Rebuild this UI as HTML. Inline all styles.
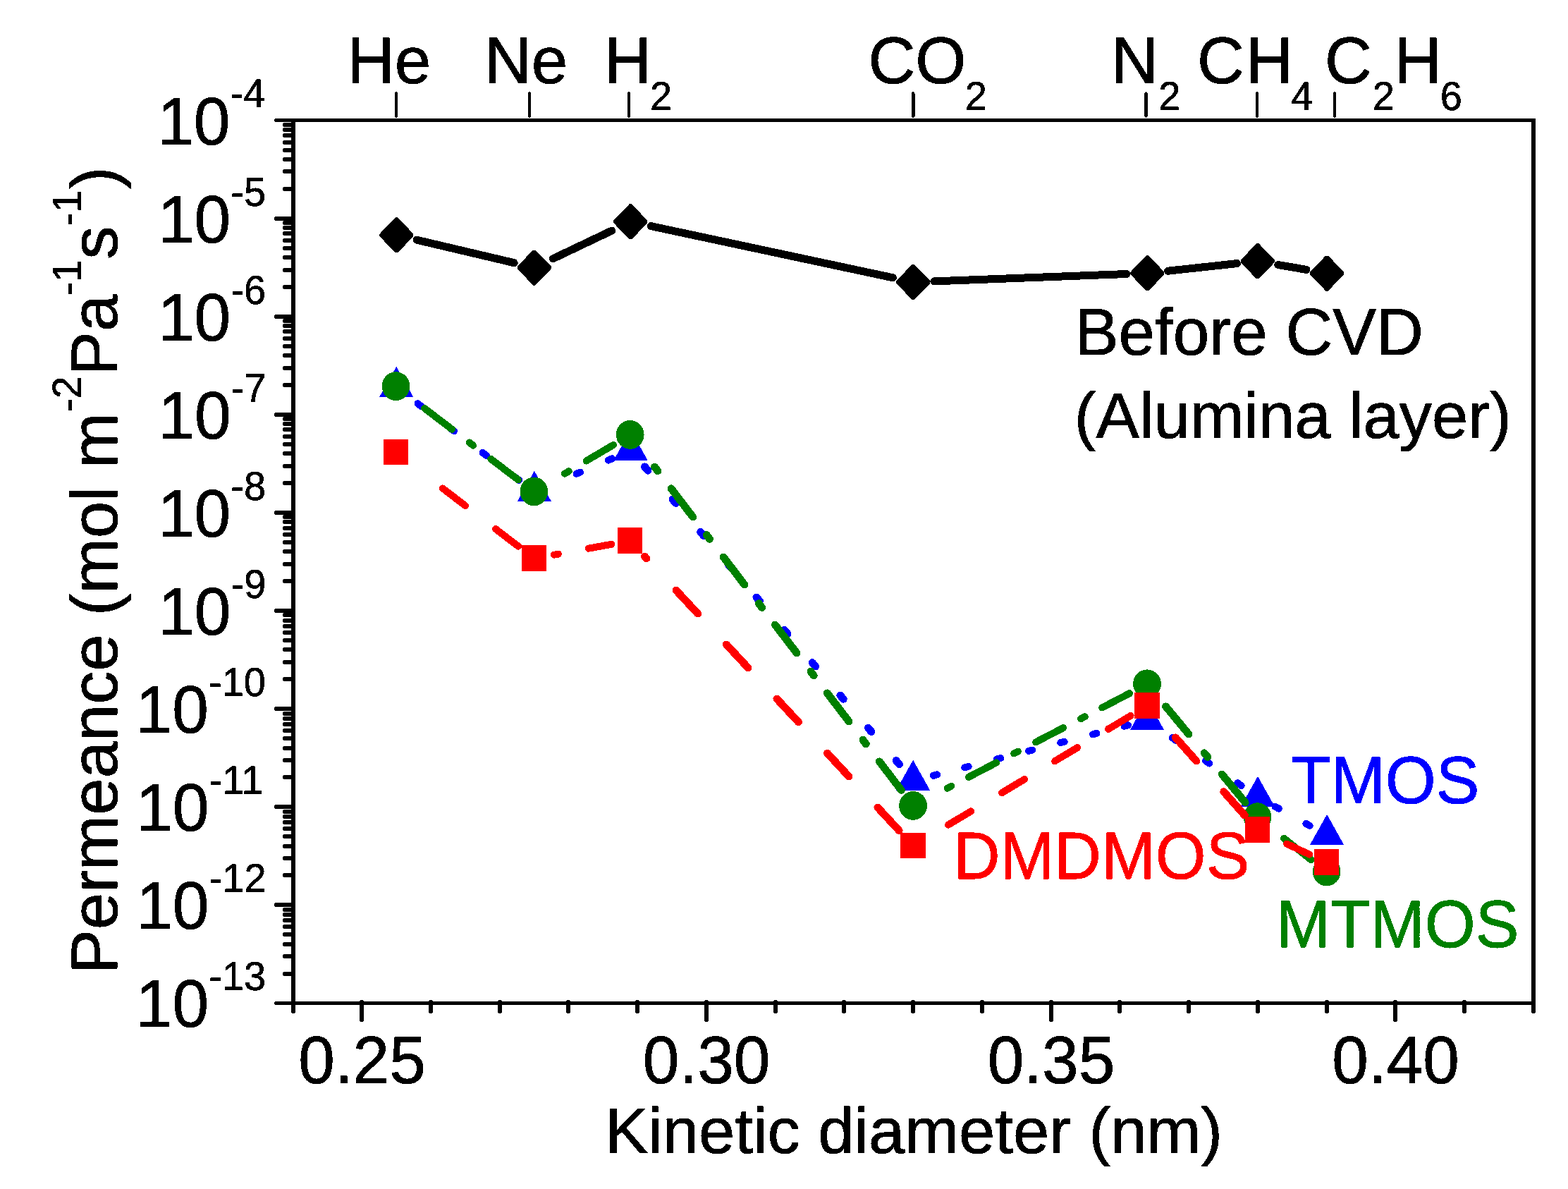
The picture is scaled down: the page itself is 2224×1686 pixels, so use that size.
<!DOCTYPE html>
<html lang="en"><head><meta charset="utf-8"><title>Permeance vs kinetic diameter</title>
<style>
html,body{margin:0;padding:0;background:#fff;}
body{width:2224px;height:1686px;overflow:hidden;}
svg{display:block;font-family:'Liberation Sans', Arial, sans-serif;}
.t{stroke-linejoin:round;}
</style></head><body>
<svg xmlns="http://www.w3.org/2000/svg" width="2224" height="1686" viewBox="0 0 2224 1686" shape-rendering="crispEdges" text-rendering="geometricPrecision">
<defs><filter id="thr" filterUnits="userSpaceOnUse" x="0" y="0" width="2224" height="1686" color-interpolation-filters="sRGB"><feComponentTransfer><feFuncA type="discrete" tableValues="0 1"/></feComponentTransfer></filter></defs>
<rect width="2224" height="1686" fill="#fff"/>
<g filter="url(#thr)">
<g fill="#000">
<rect x="413" y="168" width="1765" height="5"/>
<rect x="413" y="1420" width="1765" height="5"/>
<rect x="413" y="168" width="6" height="1257"/>
<rect x="2172" y="168" width="6" height="1257"/>
</g>
<g fill="#000" shape-rendering="geometricPrecision">
<rect x="401" y="265" width="15" height="6" rx="2.5" ry="2.5"/>
<rect x="401" y="240" width="15" height="6" rx="2.5" ry="2.5"/>
<rect x="401" y="223" width="15" height="6" rx="2.5" ry="2.5"/>
<rect x="401" y="210" width="15" height="6" rx="2.5" ry="2.5"/>
<rect x="401" y="199" width="15" height="6" rx="2.5" ry="2.5"/>
<rect x="401" y="189" width="15" height="6" rx="2.5" ry="2.5"/>
<rect x="401" y="181" width="15" height="6" rx="2.5" ry="2.5"/>
<rect x="401" y="174" width="15" height="6" rx="2.5" ry="2.5"/>
<rect x="389" y="307" width="27" height="6" rx="2.5" ry="2.5"/>
<rect x="401" y="404" width="15" height="6" rx="2.5" ry="2.5"/>
<rect x="401" y="380" width="15" height="6" rx="2.5" ry="2.5"/>
<rect x="401" y="362" width="15" height="6" rx="2.5" ry="2.5"/>
<rect x="401" y="349" width="15" height="6" rx="2.5" ry="2.5"/>
<rect x="401" y="338" width="15" height="6" rx="2.5" ry="2.5"/>
<rect x="401" y="328" width="15" height="6" rx="2.5" ry="2.5"/>
<rect x="401" y="320" width="15" height="6" rx="2.5" ry="2.5"/>
<rect x="401" y="313" width="15" height="6" rx="2.5" ry="2.5"/>
<rect x="389" y="446" width="27" height="6" rx="2.5" ry="2.5"/>
<rect x="401" y="543" width="15" height="6" rx="2.5" ry="2.5"/>
<rect x="401" y="519" width="15" height="6" rx="2.5" ry="2.5"/>
<rect x="401" y="501" width="15" height="6" rx="2.5" ry="2.5"/>
<rect x="401" y="488" width="15" height="6" rx="2.5" ry="2.5"/>
<rect x="401" y="477" width="15" height="6" rx="2.5" ry="2.5"/>
<rect x="401" y="467" width="15" height="6" rx="2.5" ry="2.5"/>
<rect x="401" y="459" width="15" height="6" rx="2.5" ry="2.5"/>
<rect x="401" y="452" width="15" height="6" rx="2.5" ry="2.5"/>
<rect x="389" y="585" width="27" height="6" rx="2.5" ry="2.5"/>
<rect x="401" y="682" width="15" height="6" rx="2.5" ry="2.5"/>
<rect x="401" y="658" width="15" height="6" rx="2.5" ry="2.5"/>
<rect x="401" y="640" width="15" height="6" rx="2.5" ry="2.5"/>
<rect x="401" y="627" width="15" height="6" rx="2.5" ry="2.5"/>
<rect x="401" y="616" width="15" height="6" rx="2.5" ry="2.5"/>
<rect x="401" y="606" width="15" height="6" rx="2.5" ry="2.5"/>
<rect x="401" y="598" width="15" height="6" rx="2.5" ry="2.5"/>
<rect x="401" y="591" width="15" height="6" rx="2.5" ry="2.5"/>
<rect x="389" y="724" width="27" height="6" rx="2.5" ry="2.5"/>
<rect x="401" y="821" width="15" height="6" rx="2.5" ry="2.5"/>
<rect x="401" y="797" width="15" height="6" rx="2.5" ry="2.5"/>
<rect x="401" y="779" width="15" height="6" rx="2.5" ry="2.5"/>
<rect x="401" y="766" width="15" height="6" rx="2.5" ry="2.5"/>
<rect x="401" y="755" width="15" height="6" rx="2.5" ry="2.5"/>
<rect x="401" y="746" width="15" height="6" rx="2.5" ry="2.5"/>
<rect x="401" y="737" width="15" height="6" rx="2.5" ry="2.5"/>
<rect x="401" y="730" width="15" height="6" rx="2.5" ry="2.5"/>
<rect x="389" y="863" width="27" height="6" rx="2.5" ry="2.5"/>
<rect x="401" y="960" width="15" height="6" rx="2.5" ry="2.5"/>
<rect x="401" y="936" width="15" height="6" rx="2.5" ry="2.5"/>
<rect x="401" y="918" width="15" height="6" rx="2.5" ry="2.5"/>
<rect x="401" y="905" width="15" height="6" rx="2.5" ry="2.5"/>
<rect x="401" y="894" width="15" height="6" rx="2.5" ry="2.5"/>
<rect x="401" y="885" width="15" height="6" rx="2.5" ry="2.5"/>
<rect x="401" y="877" width="15" height="6" rx="2.5" ry="2.5"/>
<rect x="401" y="869" width="15" height="6" rx="2.5" ry="2.5"/>
<rect x="389" y="1002" width="27" height="6" rx="2.5" ry="2.5"/>
<rect x="401" y="1099" width="15" height="6" rx="2.5" ry="2.5"/>
<rect x="401" y="1075" width="15" height="6" rx="2.5" ry="2.5"/>
<rect x="401" y="1058" width="15" height="6" rx="2.5" ry="2.5"/>
<rect x="401" y="1044" width="15" height="6" rx="2.5" ry="2.5"/>
<rect x="401" y="1033" width="15" height="6" rx="2.5" ry="2.5"/>
<rect x="401" y="1024" width="15" height="6" rx="2.5" ry="2.5"/>
<rect x="401" y="1016" width="15" height="6" rx="2.5" ry="2.5"/>
<rect x="401" y="1009" width="15" height="6" rx="2.5" ry="2.5"/>
<rect x="389" y="1141" width="27" height="6" rx="2.5" ry="2.5"/>
<rect x="401" y="1238" width="15" height="6" rx="2.5" ry="2.5"/>
<rect x="401" y="1214" width="15" height="6" rx="2.5" ry="2.5"/>
<rect x="401" y="1197" width="15" height="6" rx="2.5" ry="2.5"/>
<rect x="401" y="1183" width="15" height="6" rx="2.5" ry="2.5"/>
<rect x="401" y="1172" width="15" height="6" rx="2.5" ry="2.5"/>
<rect x="401" y="1163" width="15" height="6" rx="2.5" ry="2.5"/>
<rect x="401" y="1155" width="15" height="6" rx="2.5" ry="2.5"/>
<rect x="401" y="1148" width="15" height="6" rx="2.5" ry="2.5"/>
<rect x="389" y="1280" width="27" height="6" rx="2.5" ry="2.5"/>
<rect x="401" y="1378" width="15" height="6" rx="2.5" ry="2.5"/>
<rect x="401" y="1353" width="15" height="6" rx="2.5" ry="2.5"/>
<rect x="401" y="1336" width="15" height="6" rx="2.5" ry="2.5"/>
<rect x="401" y="1322" width="15" height="6" rx="2.5" ry="2.5"/>
<rect x="401" y="1311" width="15" height="6" rx="2.5" ry="2.5"/>
<rect x="401" y="1302" width="15" height="6" rx="2.5" ry="2.5"/>
<rect x="401" y="1294" width="15" height="6" rx="2.5" ry="2.5"/>
<rect x="401" y="1287" width="15" height="6" rx="2.5" ry="2.5"/>
<rect x="510" y="1418" width="6" height="31" rx="2.5" ry="2.5"/>
<rect x="608" y="1418" width="6" height="19" rx="2.5" ry="2.5"/>
<rect x="706" y="1418" width="6" height="19" rx="2.5" ry="2.5"/>
<rect x="803" y="1418" width="6" height="19" rx="2.5" ry="2.5"/>
<rect x="901" y="1418" width="6" height="19" rx="2.5" ry="2.5"/>
<rect x="999" y="1418" width="6" height="31" rx="2.5" ry="2.5"/>
<rect x="1097" y="1418" width="6" height="19" rx="2.5" ry="2.5"/>
<rect x="1194" y="1418" width="6" height="19" rx="2.5" ry="2.5"/>
<rect x="1292" y="1418" width="6" height="19" rx="2.5" ry="2.5"/>
<rect x="1390" y="1418" width="6" height="19" rx="2.5" ry="2.5"/>
<rect x="1488" y="1418" width="6" height="31" rx="2.5" ry="2.5"/>
<rect x="1585" y="1418" width="6" height="19" rx="2.5" ry="2.5"/>
<rect x="1683" y="1418" width="6" height="19" rx="2.5" ry="2.5"/>
<rect x="1781" y="1418" width="6" height="19" rx="2.5" ry="2.5"/>
<rect x="1879" y="1418" width="6" height="19" rx="2.5" ry="2.5"/>
<rect x="1976" y="1418" width="6" height="31" rx="2.5" ry="2.5"/>
<rect x="2074" y="1418" width="6" height="19" rx="2.5" ry="2.5"/>
<rect x="413" y="1418" width="6" height="19" rx="2.5" ry="2.5"/>
<rect x="2172" y="1418" width="6" height="19" rx="2.5" ry="2.5"/>
<rect x="389" y="168" width="30" height="5" rx="2" ry="2"/>
<rect x="389" y="1420" width="30" height="5" rx="2" ry="2"/>
</g>
<text class="t" transform="translate(423.18,1535.55) scale(1,1.026)" font-size="92.8" stroke-width="0.9" fill="#000" stroke="#000">0.25</text>
<text class="t" transform="translate(911.79,1535.55) scale(1,1.026)" font-size="92.8" stroke-width="0.9" fill="#000" stroke="#000">0.30</text>
<text class="t" transform="translate(1400.68,1535.55) scale(1,1.026)" font-size="92.8" stroke-width="0.9" fill="#000" stroke="#000">0.35</text>
<text class="t" transform="translate(1889.29,1535.55) scale(1,1.026)" font-size="92.8" stroke-width="0.9" fill="#000" stroke="#000">0.40</text>
<text class="t" transform="translate(326.58,152.43) scale(1,1.026)" font-size="56.0" stroke-width="0.54" fill="#000" stroke="#000">-4</text>
<text class="t" transform="translate(223.18,204.55) scale(1,1.026)" font-size="92.8" stroke-width="0.9" fill="#000" stroke="#000">10</text>
<text class="t" transform="translate(327.29,291.51) scale(1,1.026)" font-size="56.0" stroke-width="0.54" fill="#000" stroke="#000">-5</text>
<text class="t" transform="translate(223.89,343.63) scale(1,1.026)" font-size="92.8" stroke-width="0.9" fill="#000" stroke="#000">10</text>
<text class="t" transform="translate(327.40,430.59) scale(1,1.026)" font-size="56.0" stroke-width="0.54" fill="#000" stroke="#000">-6</text>
<text class="t" transform="translate(224.00,482.71) scale(1,1.026)" font-size="92.8" stroke-width="0.9" fill="#000" stroke="#000">10</text>
<text class="t" transform="translate(327.75,569.67) scale(1,1.026)" font-size="56.0" stroke-width="0.54" fill="#000" stroke="#000">-7</text>
<text class="t" transform="translate(224.35,621.79) scale(1,1.026)" font-size="92.8" stroke-width="0.9" fill="#000" stroke="#000">10</text>
<text class="t" transform="translate(327.37,708.75) scale(1,1.026)" font-size="56.0" stroke-width="0.54" fill="#000" stroke="#000">-8</text>
<text class="t" transform="translate(223.97,760.87) scale(1,1.026)" font-size="92.8" stroke-width="0.9" fill="#000" stroke="#000">10</text>
<text class="t" transform="translate(327.59,847.83) scale(1,1.026)" font-size="56.0" stroke-width="0.54" fill="#000" stroke="#000">-9</text>
<text class="t" transform="translate(224.19,899.95) scale(1,1.026)" font-size="92.8" stroke-width="0.9" fill="#000" stroke="#000">10</text>
<text class="t" transform="translate(295.98,986.91) scale(1,1.026)" font-size="56.0" stroke-width="0.54" fill="#000" stroke="#000">-10</text>
<text class="t" transform="translate(192.58,1039.03) scale(1,1.026)" font-size="92.8" stroke-width="0.9" fill="#000" stroke="#000">10</text>
<text class="t" transform="translate(296.53,1125.99) scale(1,1.026)" font-size="56.0" stroke-width="0.54" fill="#000" stroke="#000">-11</text>
<text class="t" transform="translate(193.12,1178.11) scale(1,1.026)" font-size="92.8" stroke-width="0.9" fill="#000" stroke="#000">10</text>
<text class="t" transform="translate(296.61,1265.07) scale(1,1.026)" font-size="56.0" stroke-width="0.54" fill="#000" stroke="#000">-12</text>
<text class="t" transform="translate(193.21,1317.19) scale(1,1.026)" font-size="92.8" stroke-width="0.9" fill="#000" stroke="#000">10</text>
<text class="t" transform="translate(296.25,1404.15) scale(1,1.026)" font-size="56.0" stroke-width="0.54" fill="#000" stroke="#000">-13</text>
<text class="t" transform="translate(192.85,1456.27) scale(1,1.026)" font-size="92.8" stroke-width="0.9" fill="#000" stroke="#000">10</text>
<text class="t" transform="translate(857.88,1634.56) scale(1,0.99)" font-size="92.2" stroke-width="0.89" fill="#000" stroke="#000">Kinetic diameter (nm)</text>
<text class="t" transform="translate(166.24,1380.77) rotate(-90) scale(1,0.99)" font-size="94.2" stroke-width="0.91" fill="#000" stroke="#000">Permeance (mol m</text>
<text class="t" transform="translate(115.32,584.26) rotate(-90) scale(1,1.02)" font-size="57.0" stroke-width="0.55" fill="#000" stroke="#000">-2</text>
<text class="t" transform="translate(166.24,532.77) rotate(-90) scale(1,0.99)" font-size="94.2" stroke-width="0.91" fill="#000" stroke="#000">Pa</text>
<text class="t" transform="translate(115.32,418.96) rotate(-90) scale(1,1.02)" font-size="57.0" stroke-width="0.55" fill="#000" stroke="#000">-1</text>
<text class="t" transform="translate(166.24,367.67) rotate(-90) scale(1,0.99)" font-size="94.2" stroke-width="0.91" fill="#000" stroke="#000">s</text>
<text class="t" transform="translate(115.32,320.56) rotate(-90) scale(1,1.02)" font-size="57.0" stroke-width="0.55" fill="#000" stroke="#000">-1</text>
<text class="t" transform="translate(166.24,268.10) rotate(-90) scale(1,0.99)" font-size="94.2" stroke-width="0.91" fill="#000" stroke="#000">)</text>
<text class="t" transform="translate(492.85,118.45) scale(1,1.012)" font-size="92.6" stroke-width="0.9" fill="#000" stroke="#000">He</text>
<text class="t" transform="translate(686.95,118.45) scale(1,1.012)" font-size="92.6" stroke-width="0.9" fill="#000" stroke="#000">Ne</text>
<text class="t" transform="translate(857.15,118.45) scale(1,1.012)" font-size="92.6" stroke-width="0.9" fill="#000" stroke="#000">H</text>
<text class="t" transform="translate(921.95,156.13) scale(1,1.026)" font-size="56.0" stroke-width="0.54" fill="#000" stroke="#000">2</text>
<text class="t" transform="translate(1231.45,118.45) scale(1,1.012)" font-size="92.6" stroke-width="0.9" fill="#000" stroke="#000">CO</text>
<text class="t" transform="translate(1368.75,156.13) scale(1,1.026)" font-size="56.0" stroke-width="0.54" fill="#000" stroke="#000">2</text>
<text class="t" transform="translate(1575.95,118.45) scale(1,1.012)" font-size="92.6" stroke-width="0.9" fill="#000" stroke="#000">N</text>
<text class="t" transform="translate(1643.25,156.13) scale(1,1.026)" font-size="56.0" stroke-width="0.54" fill="#000" stroke="#000">2</text>
<text class="t" transform="translate(1698.05,118.45) scale(1,1.012)" font-size="92.6" stroke-width="0.9" fill="#000" stroke="#000">C</text>
<text class="t" transform="translate(1767.15,118.45) scale(1,1.012)" font-size="92.6" stroke-width="0.9" fill="#000" stroke="#000">H</text>
<text class="t" transform="translate(1831.28,156.13) scale(1,1.026)" font-size="56.0" stroke-width="0.54" fill="#000" stroke="#000">4</text>
<text class="t" transform="translate(1879.05,118.45) scale(1,1.012)" font-size="92.6" stroke-width="0.9" fill="#000" stroke="#000">C</text>
<text class="t" transform="translate(1946.65,156.13) scale(1,1.026)" font-size="56.0" stroke-width="0.54" fill="#000" stroke="#000">2</text>
<text class="t" transform="translate(1977.75,118.45) scale(1,1.012)" font-size="92.6" stroke-width="0.9" fill="#000" stroke="#000">H</text>
<text class="t" transform="translate(2042.63,156.13) scale(1,1.026)" font-size="56.0" stroke-width="0.54" fill="#000" stroke="#000">6</text>
<g stroke="#000" stroke-width="4.4" stroke-linecap="round" shape-rendering="geometricPrecision">
<line x1="562.1" y1="132.5" x2="562.1" y2="164.5"/>
<line x1="751.2" y1="132.5" x2="751.2" y2="164.5"/>
<line x1="892.0" y1="132.5" x2="892.0" y2="164.5"/>
<line x1="1295.3" y1="132.5" x2="1295.3" y2="164.5"/>
<line x1="1625.4" y1="132.5" x2="1625.4" y2="164.5"/>
<line x1="1782.8" y1="132.5" x2="1782.8" y2="164.5"/>
<line x1="1893.1" y1="132.5" x2="1893.1" y2="164.5"/>
</g>
<text class="t" transform="translate(1524.85,502.85) scale(1,1.015)" font-size="92.6" stroke-width="0.9" fill="#000" stroke="#000">Before CVD</text>
<text class="t" transform="translate(1523.73,621.05) scale(1,0.995)" font-size="92.2" stroke-width="0.89" fill="#000" stroke="#000">(Alumina layer)</text>
<text class="t" transform="translate(1831.07,1138.75) scale(1,1.026)" font-size="92.6" stroke-width="0.9" fill="#0000ff" stroke="#0000ff">TMOS</text>
<text class="t" transform="translate(1351.88,1246.05) scale(1,1.026)" font-size="92.27" stroke-width="0.9" fill="#ff0000" stroke="#ff0000">DMDMOS</text>
<text class="t" transform="translate(1809.85,1342.75) scale(1,1.026)" font-size="92.6" stroke-width="0.9" fill="#008000" stroke="#008000">MTMOS</text>
<g stroke="#000" stroke-width="11" stroke-linecap="round">
<line x1="591.1" y1="340.2" x2="729.1" y2="372.7"/>
<line x1="784.4" y1="366.8" x2="867.7" y2="327.1"/>
<line x1="923.2" y1="320.6" x2="1266.4" y2="393.8"/>
<line x1="1324.8" y1="398.9" x2="1597.9" y2="388.5"/>
<line x1="1656.7" y1="384.2" x2="1754.5" y2="373.6"/>
<line x1="1812.9" y1="375.5" x2="1853.0" y2="382.4"/>
</g>
<polygon points="538.9,331.9 560.9,308.9 563.9,308.9 585.9,331.9 585.9,334.9 563.9,357.9 560.9,357.9 538.9,334.9" fill="#000" stroke="#000" stroke-width="1"/>
<polygon points="734.3,378.0 756.3,355.0 759.3,355.0 781.3,378.0 781.3,381.0 759.3,404.0 756.3,404.0 734.3,381.0" fill="#000" stroke="#000" stroke-width="1"/>
<polygon points="870.8,312.9 892.8,289.9 895.8,289.9 917.8,312.9 917.8,315.9 895.8,338.9 892.8,338.9 870.8,315.9" fill="#000" stroke="#000" stroke-width="1"/>
<polygon points="1271.8,398.5 1293.8,375.5 1296.8,375.5 1318.8,398.5 1318.8,401.5 1296.8,424.5 1293.8,424.5 1271.8,401.5" fill="#000" stroke="#000" stroke-width="1"/>
<polygon points="1603.9,385.9 1625.9,362.9 1628.9,362.9 1650.9,385.9 1650.9,388.9 1628.9,411.9 1625.9,411.9 1603.9,388.9" fill="#000" stroke="#000" stroke-width="1"/>
<polygon points="1760.3,368.9 1782.3,345.9 1785.3,345.9 1807.3,368.9 1807.3,371.9 1785.3,394.9 1782.3,394.9 1760.3,371.9" fill="#000" stroke="#000" stroke-width="1"/>
<polygon points="1858.6,386.0 1880.6,363.0 1883.6,363.0 1905.6,386.0 1905.6,389.0 1883.6,412.0 1880.6,412.0 1858.6,389.0" fill="#000" stroke="#000" stroke-width="1"/>
<g stroke="#0000ff" stroke-width="10.0" stroke-linecap="round" fill="none">
<line x1="592.6" y1="572.3" x2="598.0" y2="576.4" stroke-width="10.0"/>
<line x1="638.6" y1="607.1" x2="644.0" y2="611.2" stroke-width="10.0"/>
<line x1="684.7" y1="641.9" x2="690.1" y2="646.0" stroke-width="10.0"/>
<line x1="730.7" y1="676.7" x2="736.1" y2="680.8" stroke-width="10.0"/>
<line x1="817.5" y1="671.9" x2="822.9" y2="669.6" stroke-width="10.0"/>
<line x1="862.8" y1="652.6" x2="868.2" y2="650.3" stroke-width="10.0"/>
<line x1="914.4" y1="661.8" x2="919.0" y2="667.2" stroke-width="10.8"/>
<line x1="954.0" y1="708.1" x2="958.6" y2="713.5" stroke-width="10.8"/>
<line x1="993.6" y1="754.4" x2="998.2" y2="759.8" stroke-width="10.8"/>
<line x1="1033.2" y1="800.7" x2="1037.8" y2="806.1" stroke-width="10.8"/>
<line x1="1072.8" y1="847.0" x2="1077.5" y2="852.4" stroke-width="10.8"/>
<line x1="1112.5" y1="893.3" x2="1117.1" y2="898.7" stroke-width="10.8"/>
<line x1="1152.1" y1="939.6" x2="1156.7" y2="945.0" stroke-width="10.8"/>
<line x1="1191.7" y1="985.9" x2="1196.3" y2="991.3" stroke-width="10.8"/>
<line x1="1231.3" y1="1032.2" x2="1236.0" y2="1037.6" stroke-width="10.8"/>
<line x1="1271.0" y1="1078.5" x2="1275.6" y2="1083.9" stroke-width="10.8"/>
<line x1="1323.8" y1="1099.8" x2="1329.2" y2="1098.4" stroke-width="10.0"/>
<line x1="1368.3" y1="1088.3" x2="1373.7" y2="1086.9" stroke-width="10.0"/>
<line x1="1413.9" y1="1076.5" x2="1419.3" y2="1075.1" stroke-width="10.0"/>
<line x1="1458.9" y1="1064.9" x2="1464.3" y2="1063.5" stroke-width="10.0"/>
<line x1="1504.2" y1="1053.1" x2="1509.6" y2="1051.7" stroke-width="10.0"/>
<line x1="1549.9" y1="1041.3" x2="1555.3" y2="1039.9" stroke-width="10.0"/>
<line x1="1594.6" y1="1029.8" x2="1600.0" y2="1028.4" stroke-width="10.0"/>
<line x1="1662.8" y1="1046.2" x2="1668.2" y2="1050.0" stroke-width="10.0"/>
<line x1="1709.9" y1="1078.8" x2="1715.3" y2="1082.6" stroke-width="10.0"/>
<line x1="1755.3" y1="1110.3" x2="1760.7" y2="1114.1" stroke-width="10.0"/>
<line x1="1808.4" y1="1143.7" x2="1813.8" y2="1146.6" stroke-width="10.0"/>
<line x1="1852.3" y1="1167.9" x2="1857.7" y2="1170.8" stroke-width="10.0"/>
</g>
<polygon points="538.2,562.8 562.2,519.8 586.2,562.8" fill="#0000ff" stroke="none"/>
<polygon points="733.9,710.8 757.9,667.8 781.9,710.8" fill="#0000ff" stroke="none"/>
<polygon points="870.5,652.6 894.5,609.6 918.5,652.6" fill="#0000ff" stroke="none"/>
<polygon points="1271.1,1120.7 1295.1,1077.7 1319.1,1120.7" fill="#0000ff" stroke="none"/>
<polygon points="1603.0,1034.9 1627.0,991.9000000000001 1651.0,1034.9" fill="#0000ff" stroke="none"/>
<polygon points="1760.0,1143.7 1784.0,1100.7 1808.0,1143.7" fill="#0000ff" stroke="none"/>
<polygon points="1858.1,1197.8 1882.1,1154.8 1906.1,1197.8" fill="#0000ff" stroke="none"/>
<g stroke="#008000" stroke-width="10.0" stroke-linecap="round" fill="none">
<line x1="602.2" y1="579.1" x2="641.2" y2="608.8" stroke-width="10.0"/>
<line x1="665.7" y1="627.5" x2="671.0" y2="631.6" stroke-width="10.0"/>
<line x1="696.2" y1="650.8" x2="734.9" y2="680.3" stroke-width="10.0"/>
<line x1="800.9" y1="671.7" x2="806.7" y2="668.3" stroke-width="10.0"/>
<line x1="831.5" y1="653.6" x2="870.0" y2="630.9" stroke-width="10.0"/>
<line x1="928.5" y1="662.0" x2="932.9" y2="667.8" stroke-width="10.8"/>
<line x1="952.0" y1="692.8" x2="982.8" y2="733.1" stroke-width="10.8"/>
<line x1="1002.2" y1="758.6" x2="1006.6" y2="764.4" stroke-width="10.8"/>
<line x1="1026.2" y1="790.0" x2="1055.9" y2="829.0" stroke-width="10.8"/>
<line x1="1076.3" y1="855.7" x2="1080.7" y2="861.5" stroke-width="10.8"/>
<line x1="1099.4" y1="886.0" x2="1129.9" y2="925.9" stroke-width="10.8"/>
<line x1="1149.9" y1="952.1" x2="1154.3" y2="957.9" stroke-width="10.8"/>
<line x1="1173.3" y1="982.8" x2="1204.0" y2="1023.0" stroke-width="10.8"/>
<line x1="1223.9" y1="1049.1" x2="1228.3" y2="1054.9" stroke-width="10.8"/>
<line x1="1247.3" y1="1079.8" x2="1278.4" y2="1120.5" stroke-width="10.8"/>
<line x1="1343.6" y1="1117.7" x2="1349.4" y2="1114.7" stroke-width="10.0"/>
<line x1="1373.9" y1="1101.9" x2="1413.3" y2="1081.4" stroke-width="10.0"/>
<line x1="1438.1" y1="1068.5" x2="1443.9" y2="1065.5" stroke-width="10.0"/>
<line x1="1469.1" y1="1052.4" x2="1508.1" y2="1032.1" stroke-width="10.0"/>
<line x1="1533.0" y1="1019.2" x2="1538.8" y2="1016.2" stroke-width="10.0"/>
<line x1="1563.1" y1="1003.5" x2="1602.1" y2="983.2" stroke-width="10.0"/>
<line x1="1653.5" y1="1001.8" x2="1686.1" y2="1041.1" stroke-width="10.8"/>
<line x1="1708.1" y1="1067.7" x2="1712.9" y2="1073.5" stroke-width="10.8"/>
<line x1="1733.2" y1="1098.0" x2="1766.2" y2="1137.8" stroke-width="10.8"/>
<line x1="1821.1" y1="1188.8" x2="1859.5" y2="1219.1" stroke-width="10.0"/>
</g>
<ellipse cx="561.5" cy="547.6" rx="19.9" ry="20.4" fill="#008000" stroke="none"/>
<ellipse cx="757.4" cy="696.9" rx="19.9" ry="20.4" fill="#008000" stroke="none"/>
<ellipse cx="893.7" cy="616.4" rx="19.9" ry="20.4" fill="#008000" stroke="none"/>
<ellipse cx="1295.1" cy="1142.4" rx="19.9" ry="20.4" fill="#008000" stroke="none"/>
<ellipse cx="1627.0" cy="969.8" rx="19.9" ry="20.4" fill="#008000" stroke="none"/>
<ellipse cx="1783.5" cy="1158.7" rx="19.9" ry="20.4" fill="#008000" stroke="none"/>
<ellipse cx="1881.6" cy="1236.0" rx="19.9" ry="20.4" fill="#008000" stroke="none"/>
<g stroke="#ff0000" stroke-width="10.0" stroke-linecap="round" fill="none">
<line x1="627.9" y1="692.5" x2="660.0" y2="717.1" stroke-width="10.0"/>
<line x1="703.0" y1="750.1" x2="735.1" y2="774.7" stroke-width="10.0"/>
<line x1="785.9" y1="786.7" x2="791.9" y2="785.6" stroke-width="10.0"/>
<line x1="834.8" y1="777.7" x2="867.3" y2="771.8" stroke-width="10.0"/>
<line x1="914.4" y1="789.0" x2="917.0" y2="791.8" stroke-width="10.8"/>
<line x1="958.9" y1="837.0" x2="989.7" y2="870.1" stroke-width="10.8"/>
<line x1="1030.3" y1="913.9" x2="1061.1" y2="947.0" stroke-width="10.8"/>
<line x1="1101.8" y1="990.9" x2="1132.5" y2="1023.9" stroke-width="10.8"/>
<line x1="1173.4" y1="1068.0" x2="1204.0" y2="1101.0" stroke-width="10.8"/>
<line x1="1244.8" y1="1144.9" x2="1275.2" y2="1177.7" stroke-width="10.8"/>
<line x1="1345.0" y1="1169.6" x2="1377.2" y2="1150.4" stroke-width="10.0"/>
<line x1="1421.0" y1="1124.2" x2="1453.1" y2="1105.0" stroke-width="10.0"/>
<line x1="1496.1" y1="1079.3" x2="1528.2" y2="1060.1" stroke-width="10.0"/>
<line x1="1571.9" y1="1033.9" x2="1603.6" y2="1015.0" stroke-width="10.0"/>
<line x1="1667.3" y1="1045.8" x2="1696.8" y2="1079.0" stroke-width="10.8"/>
<line x1="1735.7" y1="1122.7" x2="1765.4" y2="1156.1" stroke-width="10.8"/>
<line x1="1825.1" y1="1196.5" x2="1857.2" y2="1211.6" stroke-width="10.0"/>
</g>
<rect x="544" y="623" width="35" height="36" fill="#ff0000" stroke="none"/>
<rect x="740" y="773" width="35" height="37" fill="#ff0000" stroke="none"/>
<rect x="876" y="748" width="35" height="37" fill="#ff0000" stroke="none"/>
<rect x="1277" y="1181" width="36" height="36" fill="#ff0000" stroke="none"/>
<rect x="1609" y="982" width="36" height="37" fill="#ff0000" stroke="none"/>
<rect x="1766" y="1158" width="35" height="37" fill="#ff0000" stroke="none"/>
<rect x="1864" y="1204" width="35" height="37" fill="#ff0000" stroke="none"/>
</g>
</svg>
</body></html>
